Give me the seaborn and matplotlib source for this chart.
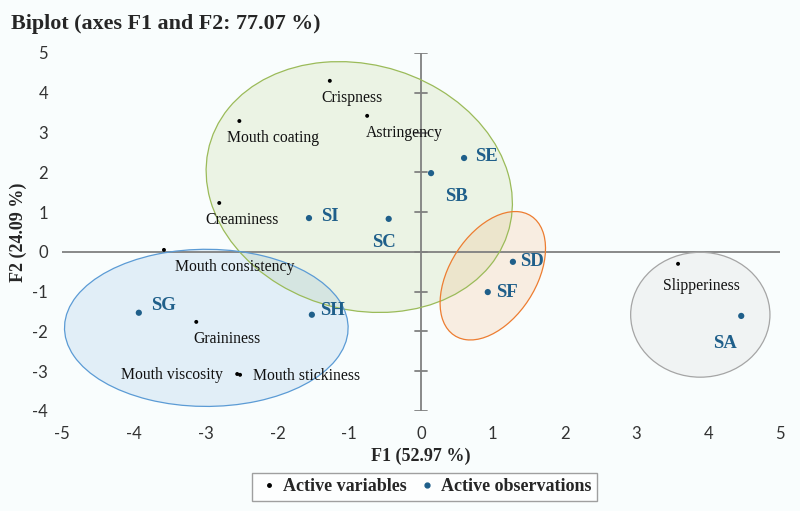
import numpy as np
import pandas as pd
import matplotlib
matplotlib.use("Agg")
import matplotlib.pyplot as plt
import seaborn as sns
from matplotlib.patches import Ellipse
from matplotlib.lines import Line2D

# Active variables (F1, F2)
var_names = ["Crispness", "Mouth coating", "Astringency", "Creaminess", "Mouth consistency",
             "Graininess", "Mouth viscosity", "Mouth stickiness", "Slipperiness"]
var_f1 = [-1.27, -2.53, -0.75, -2.81, -3.58, -3.13, -2.56, -2.52, 3.58]
var_f2 = [4.30, 3.29, 3.42, 1.23, 0.05, -1.76, -3.07, -3.09, -0.30]

# Active observations (F1, F2)
obs_names = ["SI", "SC", "SE", "SB", "SD", "SF", "SG", "SH", "SA"]
obs_f1 = [-1.56, -0.45, 0.60, 0.14, 1.28, 0.93, -3.93, -1.52, 4.46]
obs_f2 = [0.85, 0.83, 2.36, 1.98, -0.25, -1.01, -1.53, -1.58, -1.61]

# group ellipses: centre, width, height (data units), angle
ell_center = [(-0.86, 1.63), (-2.99, -1.91), (1.0, -0.6), (3.89, -1.58)]
ell_size = [(4.2, 6.35), (3.95, 3.95), (1.3, 3.3), (1.94, 3.14)]
ell_angle = [9, -24, -13, 0]
ell_face = ["#9bbb59", "#5b9bd5", "#f79646", "#bfbfbf"]
ell_edge = ["#9bbb59", "#5b9bd5", "#ed7d31", "#a5a5a5"]

var_df = pd.DataFrame({"F1": var_f1, "F2": var_f2, "name": var_names})
obs_df = pd.DataFrame({"F1": obs_f1, "F2": obs_f2, "name": obs_names})

sns.set_theme(style="white")
plt.rcParams["axes.unicode_minus"] = False
serif = ["Liberation Serif", "DejaVu Serif"]
bg = "#f9fdfd"
obs_col = "#1f5f8a"

fig = plt.figure(figsize=(8, 5.11), dpi=100, facecolor=bg)
ax = fig.add_axes([0.0775, 0.1957, 0.8975, 0.7006])
ax.set_facecolor(bg)

for (cx, cy), (w, h), a, fc, ec in zip(ell_center, ell_size, ell_angle, ell_face, ell_edge):
    ax.add_patch(Ellipse((cx, cy), w, h, angle=a, facecolor=fc, alpha=0.15, edgecolor="none", zorder=1))
    ax.add_patch(Ellipse((cx, cy), w, h, angle=a, facecolor="none", edgecolor=ec, lw=0.9, zorder=2))

ax.axhline(0, color="#808080", lw=1.3, zorder=1.5)
ax.axvline(0, color="#808080", lw=1.3, zorder=1.5)
for t in range(-4, 6):
    ax.plot([-0.085, 0.085], [t, t], color="#808080", lw=1.3, zorder=1.5)

sns.scatterplot(data=var_df, x="F1", y="F2", color="black", s=8, edgecolor="none", ax=ax, zorder=3)
sns.scatterplot(data=obs_df, x="F1", y="F2", color=obs_col, s=20, edgecolor="none", ax=ax, zorder=3)

# label offsets in points (dx, dy, ha)
var_off = [(-6, -12, "left"), (-9, -12, "left"), (-1, -12, "left"), (-10, -12, "left"),
           (8, -12, "left"), (-2, -12, "left"), (-10, -1, "right"), (9, -1, "left"), (-11, -16, "left")]
obs_off = [(9, 1, "left"), (-12, -17, "left"), (8, 1, "left"), (10, -17, "left"), (5, 0, "left"),
           (6, 0, "left"), (9, 5, "left"), (6, 3, "left"), (-20, -20, "left")]

for x, y, n, (dx, dy, ha) in zip(var_f1, var_f2, var_names, var_off):
    ax.annotate(n, (x, y), xytext=(dx, dy), textcoords="offset points", ha=ha, va="center",
                fontsize=11.3, family=serif, color="#111111", zorder=4)
for x, y, n, (dx, dy, ha) in zip(obs_f1, obs_f2, obs_names, obs_off):
    ax.annotate(n, (x, y), xytext=(dx, dy), textcoords="offset points", ha=ha, va="center",
                fontsize=13.5, family=serif, fontweight="bold", color=obs_col, zorder=4)

ax.set_xlim(-5, 5)
ax.set_ylim(-4, 5)
ax.set_xticks(range(-5, 6))
ax.set_yticks(range(-4, 6))
ax.tick_params(axis="both", length=0, labelsize=12, colors="#333333", pad=10)
for lab in ax.get_xticklabels() + ax.get_yticklabels():
    lab.set_family(["Lato", "DejaVu Sans"])
ax.tick_params(axis="x", pad=11)
for s in ax.spines.values():
    s.set_visible(False)

ax.set_xlabel("F1 (52.97 %)", family=serif, fontweight="bold", fontsize=13, labelpad=4)
ax.set_ylabel("F2 (24.09 %)", family=serif, fontweight="bold", fontsize=13, labelpad=4)

fig.text(0.014, 0.953, "Biplot (axes F1 and F2: 77.07 %)", family=serif, fontweight="bold",
         fontsize=15.8, ha="left", va="center")

handles = [Line2D([], [], marker="o", ls="", color="black", markersize=2.5),
           Line2D([], [], marker="o", ls="", color=obs_col, markersize=3.5)]
leg = fig.legend(handles, ["Active variables", "Active observations"], loc="center",
                 bbox_to_anchor=(0.531, 0.047), ncol=2, frameon=True, fancybox=False,
                 prop={"family": serif, "weight": "bold", "size": 13}, handletextpad=0.2,
                 columnspacing=0.5, handlelength=1.2, borderpad=0.3)
leg.get_frame().set_edgecolor("#888888")
leg.get_frame().set_facecolor("white")
leg.get_frame().set_linewidth(1.0)

fig.savefig("out.png", dpi=100, facecolor=bg)
